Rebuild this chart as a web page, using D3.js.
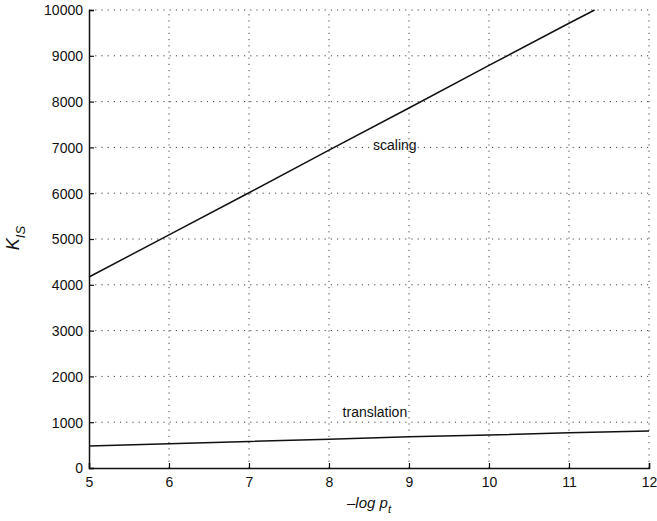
<!DOCTYPE html>
<html>
<head>
<meta charset="utf-8">
<script src="https://cdn.jsdelivr.net/npm/d3@7"></script>
<style>
  body { margin: 0; background: #fff; }
  text { font-family: "Liberation Sans", Arial, sans-serif; fill: #111; }
</style>
</head>
<body>
<script>
// values
var logP = [5, 6, 7, 8, 9, 10, 11, 11.32];
var scaling = [4170, 5090, 6010, 6940, 7860, 8790, 9710, 10000];
var logPT = [5, 6, 7, 8, 9, 10, 11, 12];
var translation = [480, 530, 580, 630, 680, 720, 770, 810];
var xTicks = [5, 6, 7, 8, 9, 10, 11, 12];
var yTicks = [0, 1000, 2000, 3000, 4000, 5000, 6000, 7000, 8000, 9000, 10000];

var W = 657, H = 521;
var m = { left: 89, right: 8, top: 10, bottom: 53 };

var svg = d3.select('body').append('svg')
  .attr('width', W)
  .attr('height', H);

var x = d3.scaleLinear().domain([5, 12]).range([m.left, W - m.right]);
var y = d3.scaleLinear().domain([0, 10000]).range([H - m.bottom, m.top]);

// dotted grid
var grid = svg.append('g').attr('stroke', '#444').attr('stroke-width', 1)
  .attr('stroke-dasharray', '1.2,5');
grid.selectAll('.gx').data(xTicks.slice(1)).enter().append('line')
  .attr('x1', function (d) { return x(d); })
  .attr('x2', function (d) { return x(d); })
  .attr('y1', y(0)).attr('y2', y(10000));
grid.selectAll('.gy').data(yTicks.slice(1)).enter().append('line')
  .attr('x1', x(5)).attr('x2', x(12))
  .attr('y1', function (d) { return y(d); })
  .attr('y2', function (d) { return y(d); });

// axes
var xAxis = svg.append('g')
  .attr('transform', 'translate(0,' + y(0) + ')')
  .call(d3.axisBottom(x).tickValues(xTicks).tickSize(-5).tickPadding(9).tickFormat(d3.format('d')));
var yAxis = svg.append('g')
  .attr('transform', 'translate(' + x(5) + ',0)')
  .call(d3.axisLeft(y).tickValues(yTicks).tickSize(-5).tickPadding(6).tickFormat(d3.format('d')));
[xAxis, yAxis].forEach(function (a) {
  a.selectAll('path').attr('stroke', '#111').attr('stroke-width', 1.5);
  a.selectAll('line').attr('stroke', '#111').attr('stroke-width', 1.2);
  a.selectAll('text').attr('font-size', 14).attr('font-family', '"Liberation Sans", Arial, sans-serif').attr('fill', '#111');
});
yAxis.selectAll('text').attr('dy', '0.35em');

// lines
var line = d3.line()
  .x(function (d) { return x(d[0]); })
  .y(function (d) { return y(d[1]); });

svg.append('path')
  .datum(d3.zip(logP, scaling))
  .attr('d', line)
  .attr('fill', 'none').attr('stroke', '#111').attr('stroke-width', 1.5);

svg.append('path')
  .datum(d3.zip(logPT, translation))
  .attr('d', line)
  .attr('fill', 'none').attr('stroke', '#111').attr('stroke-width', 1.5);

// labels
svg.append('text').attr('x', x(8.55)).attr('y', y(6943))
  .attr('font-size', 14).text('scaling');
svg.append('text').attr('x', x(8.17)).attr('y', y(1113))
  .attr('font-size', 14).text('translation');

// axis titles
var xl = svg.append('text').attr('x', 369).attr('y', 508)
  .attr('text-anchor', 'middle').attr('font-size', 15).attr('font-style', 'italic');
xl.append('tspan').text('\u2013log p');
xl.append('tspan').attr('dy', 5).attr('font-size', 11).text('t');

var yl = svg.append('text')
  .attr('transform', 'translate(19,' + y(5020) + ') rotate(-90)')
  .attr('text-anchor', 'middle').attr('font-size', 18).attr('font-style', 'italic');
yl.append('tspan').text('K');
yl.append('tspan').attr('dy', 6).attr('font-size', 13).text('IS');
</script>
</body>
</html>
